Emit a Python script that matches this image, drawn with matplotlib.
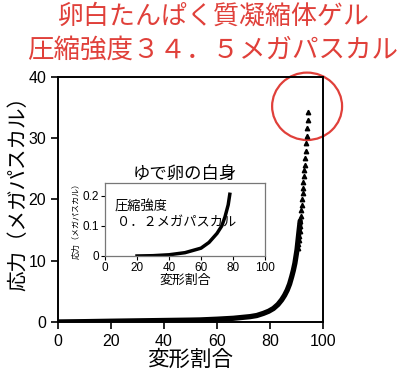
import matplotlib
matplotlib.use('Agg')
import matplotlib.pyplot as plt
from matplotlib.patches import Ellipse

# main curve: dense part (drawn as thick line)
curve_strain = [0, 10, 20, 30, 40, 50, 53.6, 60, 66.2, 72.5, 75, 77.5, 79.5, 81.3, 83.0,
                84.4, 85.5, 86.5, 87.4, 88.2, 88.8, 89.4, 90.2, 90.9, 91.4]
curve_stress = [0, 0.05, 0.12, 0.18, 0.24, 0.3, 0.33, 0.45, 0.6, 0.87, 1.05, 1.4, 1.75, 2.2, 2.85,
                3.6, 4.35, 5.2, 6.2, 7.4, 8.4, 9.6, 11.8, 14.6, 16.5]

# main curve: separated triangle markers near the top
tri_strain = [90.5, 90.65, 90.8, 91.0, 91.15, 91.3, 91.5, 91.65, 91.8, 91.96, 92.19, 92.34,
              92.45, 92.57, 92.83, 92.94, 93.1, 93.21, 93.47, 93.58, 93.85, 94.08, 94.23, 94.45]
tri_stress = [12.0, 12.7, 13.4, 14.1, 14.9, 15.7, 16.5, 17.3, 18.2, 19.1, 20.1, 21.0,
              21.9, 22.8, 23.8, 24.8, 25.7, 26.8, 27.9, 29.2, 30.4, 31.6, 33.0, 34.2]

# inset: boiled egg white
egg_strain = [20, 30, 40, 50, 60, 65, 70, 73, 75, 77, 78]
egg_stress = [0, 0.001, 0.004, 0.011, 0.026, 0.045, 0.075, 0.10, 0.13, 0.17, 0.205]

main_ticks = [0, 20, 40, 60, 80, 100]
y_ticks = [0, 10, 20, 30, 40]
inset_yticks = [0, 0.1, 0.2]

JP = ['Noto Sans CJK JP', 'DejaVu Sans']
NUM = 'Liberation Sans'
RED = '#e0403a'

fig = plt.figure(figsize=(4, 3.77), dpi=100)
ax = fig.add_axes([0.145, 0.146, 0.6625, 0.65])

ax.plot(curve_strain, curve_stress, color='black', lw=3.8, solid_capstyle='round',
        solid_joinstyle='round')
ax.plot(tri_strain, tri_stress, ls='none', marker='^', color='black', ms=3.2)

ax.set_xlim(0, 100)
ax.set_ylim(0, 40)
ax.set_xticks(main_ticks)
ax.set_yticks(y_ticks)
ax.tick_params(labelsize=11.5, width=1.2, length=5, direction='out')
for lab in ax.get_xticklabels() + ax.get_yticklabels():
    lab.set_family(NUM)
for s in ax.spines.values():
    s.set_linewidth(1.4)

ax.set_xlabel('変形割合', family=JP, fontsize=15.5, labelpad=0)
fig.text(0.045, 0.5, '応力（メガパスカル）', family=JP, fontsize=14.8,
         rotation=90, ha='center', va='center')

circle = Ellipse((94.0, 35.2), 26.4, 11.0, fill=False, edgecolor=RED, lw=1.6, clip_on=False)
ax.add_patch(circle)

fig.text(213.5 / 400, 1 - 16 / 377, '卵白たんぱく質凝縮体ゲル', family=JP, fontsize=18.7,
         color=RED, ha='center', va='center')
fig.text(212.5 / 400, 1 - 50 / 377, '圧縮強度３４．５メガパスカル', family=JP, fontsize=19.1,
         color=RED, ha='center', va='center')

# inset
ins = fig.add_axes([0.2625, 0.321, 0.4, 0.194])
ins.plot(egg_strain, egg_stress, color='black', lw=2.5)
ins.set_xlim(0, 100)
ins.set_ylim(0, 0.243)
ins.set_xticks(main_ticks)
ins.set_yticks(inset_yticks)
ins.set_yticklabels(['0', '0.1', '0.2'])
ins.tick_params(labelsize=8.5, width=0.8, length=3, direction='out', pad=1.5)
for lab in ins.get_xticklabels() + ins.get_yticklabels():
    lab.set_family(NUM)
for s in ins.spines.values():
    s.set_linewidth(0.9)
    s.set_color('#777777')
ins.set_title('ゆで卵の白身', family=JP, fontsize=12.5, pad=1)
ins.set_xlabel('変形割合', family=JP, fontsize=9.3, labelpad=0)
ins.set_ylabel('応力（メガパスカル）', family=JP, fontsize=5.8, labelpad=1)
ins.text(6.2, 0.163, '圧縮強度', family=JP, fontsize=9.5, va='center')
ins.text(7.5, 0.11, '０．２メガパスカル', family=JP, fontsize=9.5, va='center')

fig.savefig('out.png', dpi=100)
